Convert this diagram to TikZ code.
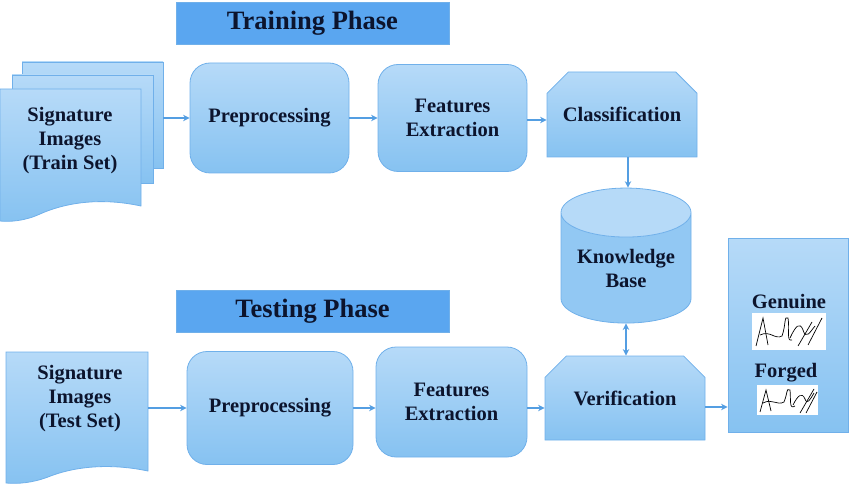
\documentclass[tikz,border=0pt]{standalone}
\usepackage{fontspec}
\setmainfont{Liberation Serif}
\usetikzlibrary{shapes.misc,shapes.geometric,arrows.meta,shadings}
\definecolor{boxtop}{RGB}{182,218,248}
\definecolor{boxbot}{RGB}{134,194,241}
\definecolor{boxline}{RGB}{112,176,234}
\definecolor{titlefill}{RGB}{90,166,240}
\definecolor{arrowc}{RGB}{84,158,226}
\definecolor{txt}{RGB}{12,20,45}
\tikzset{
  lbl/.style={font=\bfseries\fontsize{20.5}{24}\selectfont, text=txt, align=center, inner sep=0pt},
  box/.style={lbl, draw=boxline, line width=0.8pt, top color=boxtop, bottom color=boxbot},
  rbox/.style={box, rounded corners=20pt},
  cbox/.style={box, chamfered rectangle, chamfered rectangle corners={north west,north east}, chamfered rectangle xsep=14pt, chamfered rectangle ysep=14pt},
  sheet/.style={draw=boxline, line width=0.8pt, top color=boxtop, bottom color=boxbot},
  titlebox/.style={draw=boxline, line width=0.8pt, fill=titlefill, text=txt, font=\bfseries\fontsize{26.5}{30}\selectfont, inner sep=0pt, minimum width=273pt, minimum height=42pt},
  conn/.style={draw=arrowc, line width=1.3pt, -{Stealth[length=6.5pt,width=6.5pt]}},
  sig/.style={draw=black, line width=0.7pt}
}
\begin{document}
\begin{tikzpicture}[x=1pt,y=-1pt]
\useasboundingbox (0,0) rectangle (850,486);

% titles
\node[titlebox] (ttrain) at (312.5,23) {Training Phase};
\node[titlebox] (ttest) at (312.5,311) {Testing Phase};

% training document stack
\path[sheet] (22,62) -- (163,62) -- (163,168) -- (22,168) -- cycle;
\path[sheet] (12,75) -- (153,75) -- (153,183) -- (12,183) -- cycle;
\path[sheet] (0,89) -- (141,89) -- (141,206) .. controls (95,196) and (60,205) .. (40,214) .. controls (25,221) and (10,222) .. (0,221) -- cycle;
\node[lbl] (trs) at (70,141) {Signature\\Images\\(Train Set)};
\coordinate (trsout) at (163,118);

% test document
\path[sheet] (6,352) -- (148,352) -- (148,471) .. controls (105,462) and (70,468) .. (48,477) .. controls (32,483) and (18,484) .. (6,483) -- cycle;
\node[lbl] (tes) at (80,399) {Signature\\Images\\(Test Set)};
\coordinate (tesout) at (148,408);

% training row
\node[rbox, minimum width=159pt, minimum height=110pt] (pre1) at (269.5,118) {Preprocessing};
\node[rbox, minimum width=149pt, minimum height=107pt] (fe1) at (452.5,118) {Features\\Extraction};
\node[cbox, minimum width=150pt, minimum height=85pt] (cls) at (622,114.5) {Classification};

% knowledge base
\node[lbl, cylinder, shape border rotate=90, aspect=0.5, minimum width=130pt, minimum height=135pt, draw=boxline, line width=0.8pt, cylinder uses custom fill, cylinder body fill=boxbot!75!boxtop, cylinder end fill=boxtop] (kb) at (626,268) {Knowledge\\Base};

% testing row
\node[rbox, minimum width=166pt, minimum height=113pt] (pre2) at (270,408) {Preprocessing};
\node[rbox, minimum width=151pt, minimum height=110pt] (fe2) at (451.5,402) {Features\\Extraction};
\node[cbox, minimum width=160pt, minimum height=84pt] (ver) at (625,398) {Verification};

% output box
\node[box, minimum width=120pt, minimum height=194pt] (out) at (788,335) {};
\node[lbl] (gen) at (789,302) {Genuine};
\node[lbl] (forg) at (786,373) {Forged};
\fill[white] (752,313) rectangle (826,350);
\fill[white] (757,385) rectangle (818,415);
% scribbles genuine
\draw[sig] (756,346) -- (763,318) -- (768,345);
\draw[sig] (760,335) .. controls (770,330) and (775,340) .. (782,336) .. controls (786,325) and (784,315) .. (788,318) .. controls (790,330) and (786,342) .. (792,340);
\draw[sig] (790,338) .. controls (796,325) and (800,322) .. (803,330) .. controls (806,340) and (810,332) .. (815,326);
\draw[sig] (808,345) -- (822,318);
\draw[sig] (798,346) -- (812,322);
% scribbles forged
\draw[sig] (760,412) -- (766,390) -- (771,411);
\draw[sig] (763,403) .. controls (772,398) and (777,406) .. (784,402) .. controls (788,392) and (786,388) .. (790,390) .. controls (791,400) and (789,410) .. (795,406);
\draw[sig] (793,405) .. controls (798,395) and (802,392) .. (805,399) .. controls (807,405) and (810,400) .. (814,393);
\draw[sig] (800,413) -- (814,389);
\draw[sig] (806,413) -- (817,392);

% connectors
\coordinate (fe1out) at (fe1.east |- 0,120);
\coordinate (verout) at (ver.east |- 0,407);
\coordinate (clsout) at (628,157);
\draw[conn] (trsout) -- (pre1.west |- trsout);
\draw[conn] (pre1.east) -- (fe1.west |- pre1.east);
\draw[conn] (fe1out) -- (cls.west |- fe1out);
\draw[conn] (clsout) -- (clsout |- kb.top);
\draw[conn, {Stealth[length=6.5pt,width=6.5pt]}-{Stealth[length=6.5pt,width=6.5pt]}] (kb.bottom) -- (kb.bottom |- ver.north);
\draw[conn] (tesout) -- (pre2.west |- tesout);
\draw[conn] (pre2.east) -- (fe2.west |- pre2.east);
\draw[conn] (fe2.east |- pre2.east) -- (ver.west |- pre2.east);
\draw[conn] (verout) -- (out.west |- verout);
\end{tikzpicture}
\end{document}
